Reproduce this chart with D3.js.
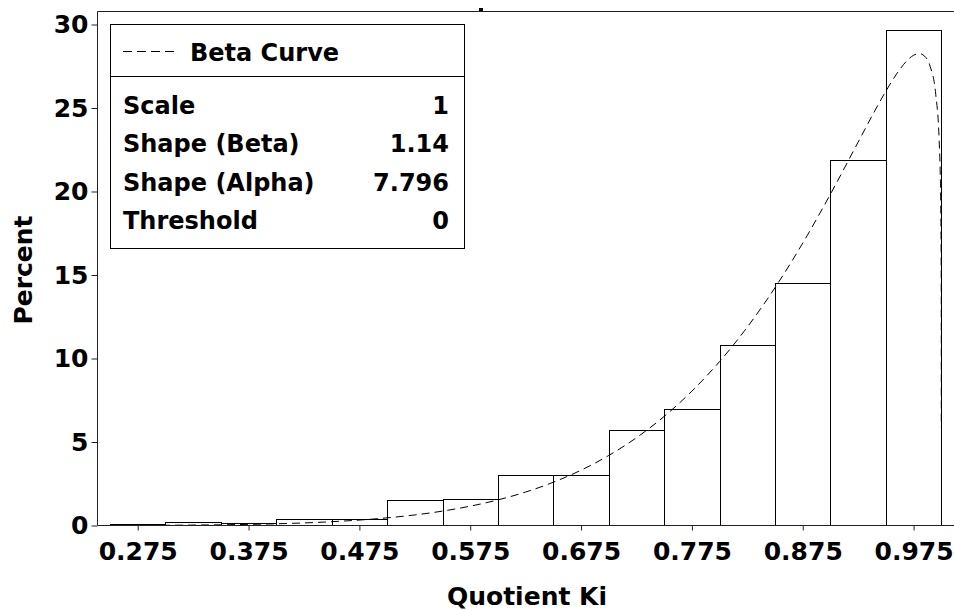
<!DOCTYPE html>
<html>
<head>
<meta charset="utf-8">
<script src="https://cdn.jsdelivr.net/npm/d3@7"></script>
<style>
	body { margin: 0; background: #fff; }
	text { font-family: 'DejaVu Sans', sans-serif; font-weight: bold; fill: #000; }
</style>
</head>
<body>
<div id="chart"></div>
<script>
// histogram bins (lower edge) and percent per bin
const binStarts = [0.25, 0.30, 0.35, 0.40, 0.45, 0.50, 0.55, 0.60, 0.65, 0.70, 0.75, 0.80, 0.85, 0.90, 0.95];
const binWidth = 0.05;
const binPercent = [0.1, 0.2, 0.15, 0.4, 0.4, 1.5, 1.6, 3.0, 3.0, 5.7, 7.0, 10.8, 14.5, 21.9, 29.7];

// fitted beta curve
const curveX = [0.25, 0.30, 0.35, 0.40, 0.45, 0.50, 0.525, 0.55, 0.575, 0.60, 0.625, 0.65, 0.675, 0.70, 0.725,
	0.75, 0.775, 0.80, 0.825, 0.85, 0.875, 0.90, 0.925, 0.94, 0.95, 0.96, 0.97, 0.975, 0.98, 0.985, 0.99,
	0.995, 0.998, 0.999, 0.9995, 0.9999, 0.99995, 0.99999, 0.999999, 0.9999999];
const curvePercent = [0.004, 0.015, 0.042, 0.103, 0.227, 0.458, 0.633, 0.862, 1.158, 1.532, 2.004, 2.592, 3.313, 4.195, 5.259,
	6.535, 8.048, 9.821, 11.884, 14.245, 16.909, 19.846, 22.96, 24.83, 26.01, 27.07, 27.90, 28.16, 28.26, 28.10, 27.48,
	25.81, 23.17, 21.17, 19.28, 15.44, 14.01, 11.18, 8.10, 5.87];

const xTicks = [0.275, 0.375, 0.475, 0.575, 0.675, 0.775, 0.875, 0.975];
const yTicks = [0, 5, 10, 15, 20, 25, 30];

const legendTitle = 'Beta Curve';
const paramNames = ['Scale', 'Shape (Beta)', 'Shape (Alpha)', 'Threshold'];
const paramValues = ['1', '1.14', '7.796', '0'];

const W = 954, H = 610;
const LEFT = 97.5, BOTTOM = 525.5, TOP = 11.5;

const svg = d3.select('#chart').append('svg')
	.attr('width', W)
	.attr('height', H)
	.style('background-color', '#fff');

const x = d3.scaleLinear().domain([0.25, 1.0]).range([110, 941.3]);
const y = d3.scaleLinear().domain([0, 30]).range([BOTTOM, 24.5]);

// bars
svg.append('g')
	.selectAll('rect')
	.data(binStarts)
	.join('rect')
		.attr('x', d => Math.round(x(d)) + 0.5)
		.attr('y', (d, i) => Math.round(y(binPercent[i])) + 0.5)
		.attr('width', d => Math.round(x(d + binWidth)) - Math.round(x(d)))
		.attr('height', (d, i) => BOTTOM - (Math.round(y(binPercent[i])) + 0.5))
		.attr('fill', 'none')
		.attr('stroke', '#000')
		.attr('stroke-width', 1);

// beta curve
const line = d3.line()
	.x(d => x(d[0]))
	.y(d => y(d[1]))
	.curve(d3.curveMonotoneX);

svg.append('path')
	.datum(curveX.map((v, i) => [v, curvePercent[i]]))
	.attr('d', line)
	.attr('fill', 'none')
	.attr('stroke', '#000')
	.attr('stroke-width', 1)
	.attr('stroke-dasharray', '8,5');

// frame
const frame = svg.append('g').attr('stroke', '#222').attr('stroke-width', 1);
frame.append('line').attr('x1', LEFT).attr('x2', LEFT).attr('y1', TOP).attr('y2', BOTTOM);
frame.append('line').attr('x1', LEFT).attr('x2', W + 5).attr('y1', TOP).attr('y2', TOP);
frame.append('line').attr('x1', LEFT).attr('x2', W + 5).attr('y1', BOTTOM).attr('y2', BOTTOM);
svg.append('rect').attr('x', 479).attr('y', 8).attr('width', 4).attr('height', 3).attr('fill', '#000');

// axes
const axisY = d3.axisLeft(y).tickValues(yTicks).tickSize(6).tickPadding(3);
const gy = svg.append('g')
	.attr('transform', `translate(${LEFT},0)`)
	.call(axisY);

const axisX = d3.axisBottom(x).tickValues(xTicks).tickSize(5).tickPadding(12).tickFormat(d3.format('.3f'));
const gx = svg.append('g')
	.attr('transform', `translate(0,${BOTTOM})`)
	.call(axisX);

[gx, gy].forEach(g => {
	g.select('.domain').remove();
	g.selectAll('.tick line').attr('stroke', '#222');
	g.selectAll('.tick text')
		.style('font-family', "'DejaVu Sans', sans-serif")
		.style('font-weight', 'bold')
		.style('font-size', '25px')
		.attr('fill', '#000');
});

// axis titles
svg.append('text')
	.text('Quotient Ki')
	.attr('x', 527)
	.attr('y', 605)
	.attr('text-anchor', 'middle')
	.style('font-size', '25px');

svg.append('text')
	.text('Percent')
	.attr('transform', 'translate(32,270) rotate(-90)')
	.attr('text-anchor', 'middle')
	.style('font-size', '25px');

// legend / parameter inset
const legend = svg.append('g');
legend.append('rect')
	.attr('x', 110.5)
	.attr('y', 24.5)
	.attr('width', 354)
	.attr('height', 224)
	.attr('fill', '#fff')
	.attr('stroke', '#000');
legend.append('line')
	.attr('x1', 110.5).attr('x2', 464.5)
	.attr('y1', 76.5).attr('y2', 76.5)
	.attr('stroke', '#000');
legend.append('line')
	.attr('x1', 123).attr('x2', 177)
	.attr('y1', 51.5).attr('y2', 51.5)
	.attr('stroke', '#000')
	.attr('stroke-dasharray', '9,5');
legend.append('text')
	.text(legendTitle)
	.attr('x', 190)
	.attr('y', 61)
	.style('font-size', '24px');

const rows = legend.selectAll('g.row')
	.data(paramNames)
	.join('g')
		.classed('row', true)
		.attr('transform', (d, i) => `translate(0,${114 + i * 38.3})`);
rows.append('text')
	.text(d => d)
	.attr('x', 123)
	.style('font-size', '24px');
rows.append('text')
	.text((d, i) => paramValues[i])
	.attr('x', 449)
	.attr('text-anchor', 'end')
	.style('font-size', '24px');
</script>
</body>
</html>
